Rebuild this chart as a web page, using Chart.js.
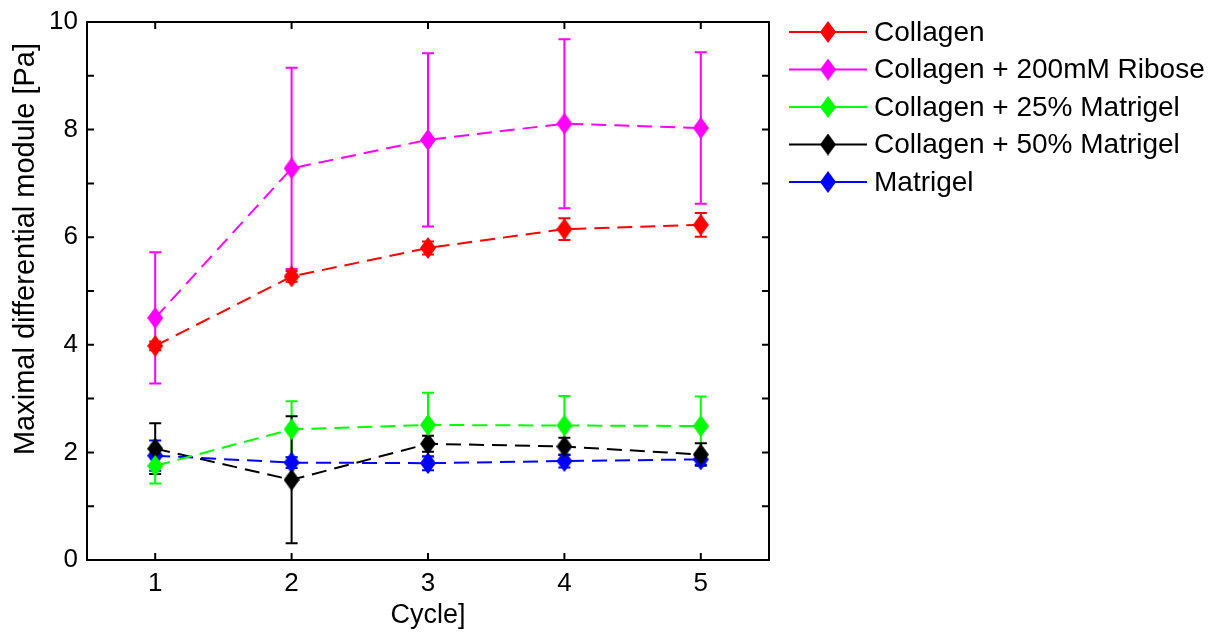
<!DOCTYPE html>
<html>
<head>
<meta charset="utf-8">
<script src="https://cdn.jsdelivr.net/npm/chart.js@4.4.0/dist/chart.umd.min.js"></script>
<style>
  html, body { margin: 0; padding: 0; background: #fff; }
  #wrap { width: 1224px; height: 632px; }
</style>
</head>
<body>
<div id="wrap"><canvas id="chart"></canvas></div>
<script>
const cycles = [1, 2, 3, 4, 5];
const seriesNames = ['Collagen', 'Collagen + 200mM Ribose', 'Collagen + 25% Matrigel', 'Collagen + 50% Matrigel', 'Matrigel'];
const seriesColors = ['#ff0000', '#ff00ff', '#00ff00', '#000000', '#0000ff'];

const collagen = [3.98, 5.27, 5.80, 6.15, 6.23];
const collagenErr = [0.08, 0.10, 0.12, 0.20, 0.22];
const ribose = [4.50, 7.28, 7.81, 8.11, 8.03];
const riboseErr = [1.22, 1.87, 1.61, 1.57, 1.41];
const matrigel25 = [1.75, 2.43, 2.51, 2.50, 2.49];
const matrigel25Err = [0.33, 0.52, 0.60, 0.55, 0.55];
const matrigel50 = [2.07, 1.49, 2.16, 2.11, 1.96];
const matrigel50Err = [0.47, 1.18, 0.15, 0.16, 0.21];
const matrigel = [1.94, 1.81, 1.80, 1.84, 1.87];
const matrigelErr = [0.28, 0.10, 0.13, 0.12, 0.10];

const yTicks = [0, 2, 4, 6, 8, 10];
const yTitle = 'Maximal differential module [Pa]';
const FONT = "'Liberation Sans', Arial, sans-serif";

const values = [collagen, ribose, matrigel25, matrigel50, matrigel];
const errors = [collagenErr, riboseErr, matrigel25Err, matrigel50Err, matrigelErr];

// elongated diamond marker
function diamond(color) {
  const c = document.createElement('canvas');
  c.width = 16; c.height = 22;
  const g = c.getContext('2d');
  g.fillStyle = color;
  g.beginPath();
  g.moveTo(8, 0); g.lineTo(16, 11); g.lineTo(8, 22); g.lineTo(0, 11);
  g.closePath();
  g.fill();
  return c;
}
const markers = seriesColors.map(diamond);

const datasets = seriesNames.map((name, i) => ({
  label: name,
  data: cycles.map((c, j) => ({ x: c, y: values[i][j] })),
  errs: errors[i],
  borderColor: seriesColors[i],
  backgroundColor: seriesColors[i],
  borderWidth: 2,
  borderDash: [15, 8],
  pointStyle: markers[i],
  pointRadius: 8,
  tension: 0
}));

// error bars with caps
const errorBars = {
  id: 'errorBars',
  beforeDatasetsDraw(chart) {
    const { ctx, scales: { x, y } } = chart;
    ctx.save();
    ctx.lineWidth = 2;
    chart.data.datasets.forEach(ds => {
      ctx.strokeStyle = ds.borderColor;
      ds.data.forEach((p, j) => {
        const e = ds.errs[j];
        const px = x.getPixelForValue(p.x);
        const top = y.getPixelForValue(p.y + e);
        const bot = y.getPixelForValue(p.y - e);
        ctx.beginPath();
        ctx.moveTo(px, top); ctx.lineTo(px, bot);
        ctx.moveTo(px - 6, top); ctx.lineTo(px + 6, top);
        ctx.moveTo(px - 6, bot); ctx.lineTo(px + 6, bot);
        ctx.stroke();
      });
    });
    ctx.restore();
  }
};

// box frame, inward ticks, y title and legend
const frame = {
  id: 'frame',
  afterDraw(chart) {
    const { ctx, chartArea: a, scales: { x, y } } = chart;
    ctx.save();
    ctx.strokeStyle = '#000';
    ctx.lineWidth = 2;
    ctx.strokeRect(a.left, a.top, a.right - a.left, a.bottom - a.top);
    ctx.beginPath();
    cycles.forEach(c => {
      const px = x.getPixelForValue(c);
      ctx.moveTo(px, a.bottom); ctx.lineTo(px, a.bottom - 7);
      ctx.moveTo(px, a.top); ctx.lineTo(px, a.top + 7);
    });
    for (let v = 0; v <= 10; v++) {
      const py = y.getPixelForValue(v);
      ctx.moveTo(a.left, py); ctx.lineTo(a.left + 7, py);
      ctx.moveTo(a.right, py); ctx.lineTo(a.right - 7, py);
    }
    ctx.stroke();

    // y title sits a bit above the middle in the original
    ctx.fillStyle = '#000';
    ctx.font = '29px ' + FONT;
    ctx.textAlign = 'center';
    ctx.textBaseline = 'middle';
    ctx.translate(26, 249);
    ctx.rotate(-Math.PI / 2);
    ctx.fillText(yTitle, 0, 0);
    ctx.setTransform(1, 0, 0, 1, 0, 0);

    // legend
    ctx.font = '28px ' + FONT;
    ctx.textAlign = 'left';
    chart.data.datasets.forEach((ds, i) => {
      const ly = 32 + i * 37.5;
      ctx.strokeStyle = ds.borderColor;
      ctx.lineWidth = 2;
      ctx.beginPath();
      ctx.moveTo(789, ly); ctx.lineTo(867, ly);
      ctx.stroke();
      ctx.drawImage(markers[i], 828 - 8, ly - 11);
      ctx.fillStyle = '#000';
      ctx.fillText(ds.label, 874, ly + 1);
    });
    ctx.restore();
  }
};

new Chart(document.getElementById('chart'), {
  type: 'line',
  data: { datasets },
  options: {
    responsive: true,
    maintainAspectRatio: false,
    animation: false,
    layout: { padding: { top: 22, right: 455, left: 0, bottom: 0 } },
    plugins: { legend: { display: false }, tooltip: { enabled: false } },
    scales: {
      x: {
        type: 'linear',
        min: 0.5, max: 5.5,
        afterFit: s => { s.height = 72; s.paddingLeft = 0; s.paddingRight = 0; },
        afterBuildTicks: s => { s.ticks = cycles.map(v => ({ value: v })); },
        grid: { display: false, drawTicks: false },
        border: { display: false },
        ticks: { color: '#000', padding: 8, font: { family: FONT, size: 26 } },
        title: { display: true, text: 'Cycle]', color: '#000', padding: { top: 0, bottom: 0 }, font: { family: FONT, size: 27 } }
      },
      y: {
        min: 0, max: 10,
        afterFit: s => { s.width = 87; s.paddingTop = 0; s.paddingBottom = 0; },
        afterBuildTicks: s => { s.ticks = yTicks.map(v => ({ value: v })); },
        grid: { display: false, drawTicks: false },
        border: { display: false },
        ticks: { color: '#000', padding: 9, font: { family: FONT, size: 26 } },
        title: { display: false }
      }
    }
  },
  plugins: [errorBars, frame]
});
</script>
</body>
</html>
